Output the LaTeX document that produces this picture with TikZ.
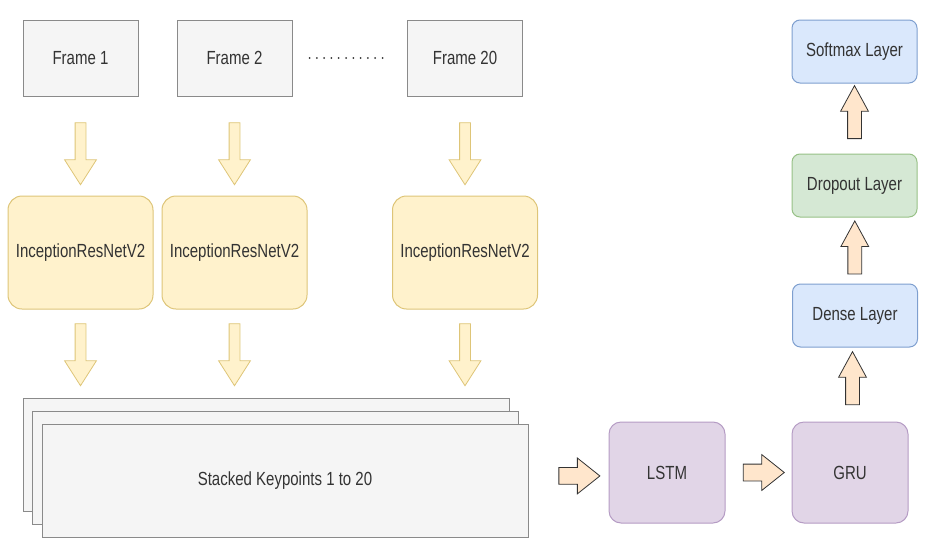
\documentclass[tikz,border=0pt]{standalone}
\usepackage{fontspec}
\setmainfont{Liberation Sans}[FakeStretch=0.79]
\usetikzlibrary{shapes.arrows, calc}

\definecolor{grayfill}{HTML}{F5F5F5}
\definecolor{grayline}{HTML}{8A8A8A}
\definecolor{yelfill}{HTML}{FFF2CC}
\definecolor{yelline}{HTML}{D6B656}
\definecolor{purfill}{HTML}{E1D5E7}
\definecolor{purline}{HTML}{B59CC4}
\definecolor{bluefill}{HTML}{DAE8FC}
\definecolor{blueline}{HTML}{7E9FCF}
\definecolor{grnfill}{HTML}{D5E8D4}
\definecolor{grnline}{HTML}{97C186}
\definecolor{peach}{HTML}{FFE6CC}
\definecolor{txt}{HTML}{333333}

\tikzset{
  every node/.style={font=\fontsize{19}{22}\selectfont, text=txt},
  framebox/.style={draw=grayline, fill=grayfill, line width=1pt, minimum width=115pt, minimum height=76pt},
  incbox/.style={draw=yelline!80, fill=yelfill, line width=1pt, rounded corners=14pt, minimum width=145pt, minimum height=113pt},
  stackbox/.style={draw=grayline, fill=grayfill, line width=1pt, minimum width=486pt, minimum height=113pt},
  rnnbox/.style={draw=purline, fill=purfill, line width=1pt, rounded corners=12pt, minimum width=116pt, minimum height=101pt},
  layerbox/.style={line width=1pt, rounded corners=8pt, minimum width=125pt, minimum height=63pt},
  yarrow/.style={single arrow, draw=yelline!80, fill=yelfill, line width=0.8pt, shape border rotate=270,
    minimum height=62pt, inner sep=5pt, single arrow head extend=10.5pt, single arrow tip angle=65},
  rarrow/.style={single arrow, draw=txt, fill=peach, line width=0.8pt,
    minimum height=41pt, inner sep=8pt, single arrow head extend=9.5pt, single arrow tip angle=77},
  uarrow/.style={single arrow, draw=txt, fill=peach, line width=0.8pt, shape border rotate=90,
    minimum height=53pt, inner sep=6.5pt, single arrow head extend=7pt, single arrow tip angle=57}
}

\begin{document}
\begin{tikzpicture}[x=1pt, y=-1pt]
    \useasboundingbox (0,0) rectangle (928,546); % same size as the picture

    % one column for each frame
    \foreach \k/\x in {1/80.5, 2/234.5, 20/465}{
        \node[framebox] (f\k) at (\x,58) {Frame \k};
        \node[incbox] (i\k) at (\x,252.5) {InceptionResNetV2};
        \node[yarrow] (a\k) at ([yshift=-53pt]f\k.south) {};
        \node[yarrow] (b\k) at ([yshift=-41pt]i\k.south) {};
    }
    \draw[txt, line width=2pt, line cap=round, dash pattern=on 0pt off 7.3pt] ([xshift=17pt]f2.east) -- ([xshift=-24pt]f20.west);

    % the stacked keypoints, back ones first
    \foreach \d in {2,1}{
        \node[stackbox] (s\d) at (285-9.5*\d, 480.5-13*\d) {};
    }
    \node[stackbox] (stack) at (285,480.5) {Stacked Keypoints 1 to 20};

    % recurrent part and the layers on top
    \node[rnnbox] (lstm) at (667,472.5) {LSTM};
    \node[rnnbox] (gru) at (850,472.5) {GRU};
    \node[layerbox, draw=blueline, fill=bluefill] (dense) at (855,315.5) {Dense Layer};
    \node[layerbox, draw=grnline, fill=grnfill] (drop) at (854.5,185.5) {Dropout Layer};
    \node[layerbox, draw=blueline, fill=bluefill] (soft) at (854.5,51.5) {Softmax Layer};

    \node[rarrow] (r1) at ($(stack.east)!0.57!(lstm.west)$) {};
    \node[rarrow] (r2) at ($(lstm.east)!0.5!(gru.west)$) {};
    \node[uarrow] (u1) at ($(gru.north)!0.5!(dense.south)$) {};
    \node[uarrow] (u2) at ($(dense.north)!0.45!(drop.south)$) {};
    \node[uarrow] (u3) at ($(drop.north)!0.5!(soft.south)$) {};
\end{tikzpicture}
\end{document}
